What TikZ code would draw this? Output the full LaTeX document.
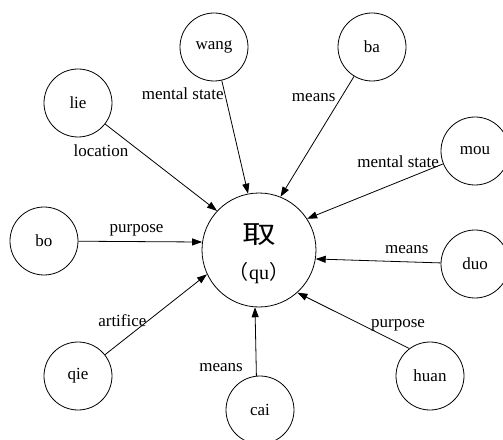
\documentclass[tikz,border=0pt]{standalone}
\usepackage{fontspec}
\setmainfont{Liberation Serif}
\newfontfamily\cjk{Noto Sans CJK SC}
\usetikzlibrary{positioning}
\usetikzlibrary{arrows.meta}
\tikzset{main node/.style={circle,draw,minimum size=68pt, inner sep=0pt},}
\tikzset{head node/.style={circle,draw,minimum size=114pt, inner sep=0pt},}
\tikzset{rel/.style={inner sep=1pt},}

\begin{document}
\begin{tikzpicture}[on grid, font=\fontsize{17}{20}\selectfont, line width=0.8pt,
    >={Triangle[length=10pt,width=7pt]}]
   \useasboundingbox (-259pt,-189pt) rectangle (244pt,250pt);
   \node[head node] (qu) {};
   \node (qu char) [above=15pt of qu] {\scalebox{1.35}[1]{\cjk\fontsize{25}{25}\selectfont 取}};
   \node (qu pinyin) [below=23pt of qu] {\fontsize{20}{24}\selectfont{\cjk （}qu{\cjk ）}};

   \node[main node] (wang) [above left = 203pt and 45pt of qu]  {wang};
   \node[main node] (ba)   [above right = 203pt and 113pt of qu] {ba};
   \node[main node] (lie)  [above left = 147pt and 181pt of qu]  {lie};
   \node[main node] (mou)  [above right = 99pt and 216pt of qu]  {mou};
   \node[main node] (bo)   [above left = 9pt and 215pt of qu]    {bo};
   \node[main node] (duo)  [below right = 14pt and 216pt of qu]  {duo};
   \node[main node] (qie)  [below left = 126pt and 181pt of qu]  {qie};
   \node[main node] (cai)  [below = 160pt of qu, xshift=1pt]     {cai};
   \node[main node] (huan) [below right = 126pt and 171pt of qu] {huan};

    \path[->]
    (wang) edge node[rel,pos=.12,left=0pt] {mental state} (qu.101)
    (ba) edge node[rel,pos=.18,left=4pt] {means} (qu.68)
    (lie) edge node[rel,pos=.22,below left=0pt] {location} (qu.137)
    (mou) edge node[rel,pos=.02,left=0pt,yshift=3pt] {mental state} (qu.33)
    (bo) edge node[rel,pos=.47,above=4pt] {purpose} (qu.172)
    (duo) edge node[rel,pos=.27,above=7pt] {means} (qu.351)
    (qie) edge node[rel,pos=.42,left=0pt] {artifice} (qu.205)
    (cai.96) edge node[rel,pos=.12,left=12pt] {means} (qu.266)
    (huan.127) edge node[rel,pos=.1,above=10pt] {purpose} (qu.312);
  \end{tikzpicture}
\end{document}
